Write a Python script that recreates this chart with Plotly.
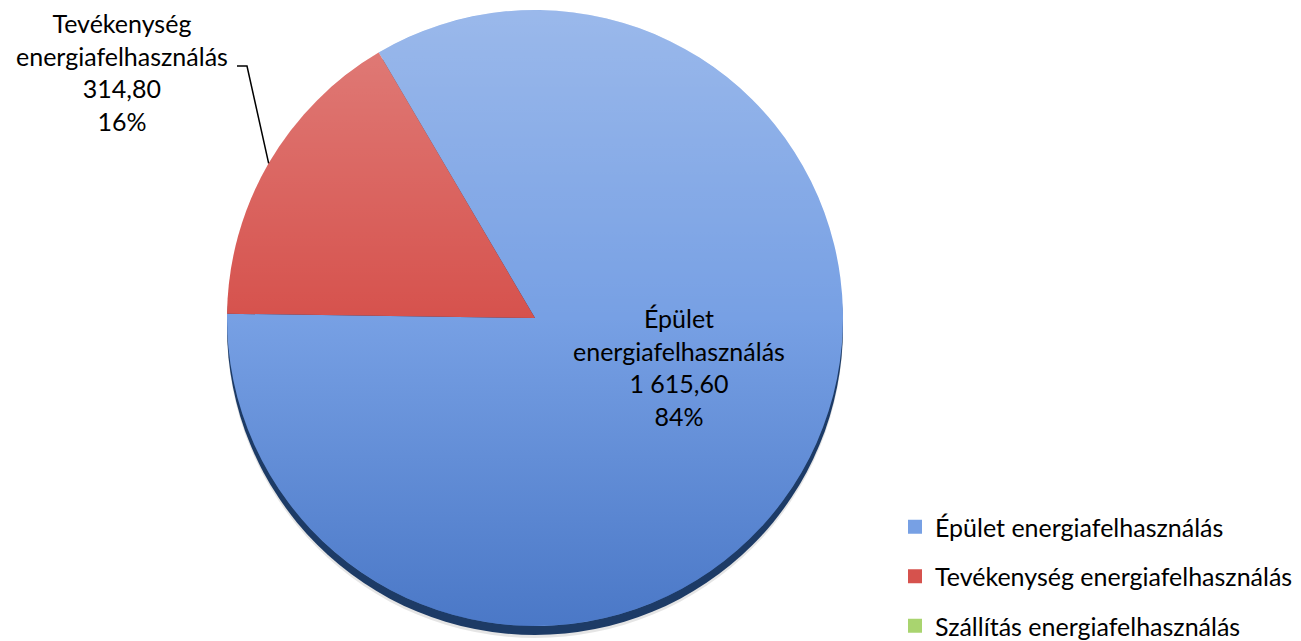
import math
import base64
import plotly.graph_objects as go

labels = ["Épület energiafelhasználás", "Tevékenység energiafelhasználás", "Szállítás energiafelhasználás"]
values = [1615.60, 314.80, 0.0]
colors = ["#77A0E4", "#D6524D", "#A9D46F"]

W, H = 1301, 641
cx, cy, R = 535, 318, 308
start_rot = -30.5
FONT = "Lato"
FS = 25


def dom(dy=0):
    return dict(x=[(cx - R) / W, (cx + R) / W],
                y=[(H - cy - dy - R) / H, (H - cy - dy + R) / H])


def fmt_num(v):
    s = f"{v:,.2f}"
    return s.replace(",", " ").replace(".", ",")


total = sum(values)
line_labels = [l.replace(" ", "<br>") for l in labels]
pcts = [round(v / total * 100) for v in values]
label_texts = [f"{line_labels[i]}<br>{fmt_num(values[i])}<br>{pcts[i]}%" for i in range(len(values))]

fig = go.Figure()
# soft outer shadow
fig.add_trace(go.Pie(values=[1], labels=["s1"], domain=dom(12), sort=False,
                     marker=dict(colors=["rgba(0,0,0,0.10)"], line=dict(width=0)),
                     textinfo="none", hoverinfo="skip", showlegend=False))
# dark 3D edge
fig.add_trace(go.Pie(values=[1], labels=["s2"], domain=dom(9), sort=False,
                     marker=dict(colors=["#1D3B66"], line=dict(width=0)),
                     textinfo="none", hoverinfo="skip", showlegend=False))
fig.add_trace(go.Pie(
    labels=labels, values=values,
    domain=dom(0), sort=False, direction="clockwise", rotation=start_rot,
    marker=dict(colors=colors, line=dict(width=0)),
    textinfo="none", showlegend=False, hoverinfo="label+value+percent",
))

# legend entries
for lab, col in zip(labels, colors):
    fig.add_trace(go.Scatter(x=[None], y=[None], mode="markers", name=lab,
                             legendgroup=lab,
                             marker=dict(symbol="square", size=14, color=col)))

# gradient shading overlay on the pie disc
svg = ('<svg xmlns="http://www.w3.org/2000/svg" width="200" height="200" viewBox="0 0 200 200">'
       '<defs><linearGradient id="g" x1="0" y1="0" x2="0" y2="1">'
       '<stop offset="0" stop-color="#ffffff" stop-opacity="0.26"/>'
       '<stop offset="0.5" stop-color="#ffffff" stop-opacity="0"/>'
       '<stop offset="0.5" stop-color="#1E50AA" stop-opacity="0"/>'
       '<stop offset="1" stop-color="#1E50AA" stop-opacity="0.5"/>'
       '</linearGradient></defs>'
       '<circle cx="100" cy="100" r="100" fill="url(#g)"/></svg>')
src = "data:image/svg+xml;base64," + base64.b64encode(svg.encode()).decode()
d = dom(0)
fig.add_layout_image(source=src, xref="paper", yref="paper",
                     x=d["x"][0], y=d["y"][1], sizex=d["x"][1] - d["x"][0],
                     sizey=d["y"][1] - d["y"][0], xanchor="left", yanchor="top",
                     sizing="stretch", layer="above")

# inside label of the first slice
fig.add_annotation(x=679 / W, y=1 - 367 / H, xref="paper", yref="paper",
                   xanchor="center", yanchor="middle", showarrow=False,
                   text=label_texts[0], font=dict(family=FONT, size=FS, color="black"))

# outside label for the second slice with a leader line
mid = math.radians(start_rot + 360 * (values[0] + values[1] / 2) / total)
ex = cx + R * math.sin(mid)
ey = cy - R * math.cos(mid)
fig.add_annotation(x=122 / W, y=1 - 72 / H, xref="paper", yref="paper",
                   xanchor="center", yanchor="middle", showarrow=False,
                   text=label_texts[1], font=dict(family=FONT, size=FS, color="black"))
fig.add_shape(type="path", xref="paper", yref="paper",
              path=f"M {ex / W} {1 - ey / H} L {247 / W} {1 - 66 / H} L {237 / W} {1 - 66 / H}",
              line=dict(color="black", width=1.5))

fig.update_layout(
    width=W, height=H, margin=dict(l=0, r=0, t=0, b=0, autoexpand=False),
    paper_bgcolor="white", plot_bgcolor="white",
    xaxis=dict(visible=False), yaxis=dict(visible=False),
    font=dict(family=FONT, size=FS, color="black"),
    legend=dict(x=895 / W, y=1 - 504 / H, xanchor="left", yanchor="top",
                tracegroupgap=14, font=dict(family=FONT, size=FS, color="black"),
                bgcolor="rgba(0,0,0,0)"),
)
fig.write_html("out.html", config={"displayModeBar": False},
               post_script="document.body.style.margin='0';")
